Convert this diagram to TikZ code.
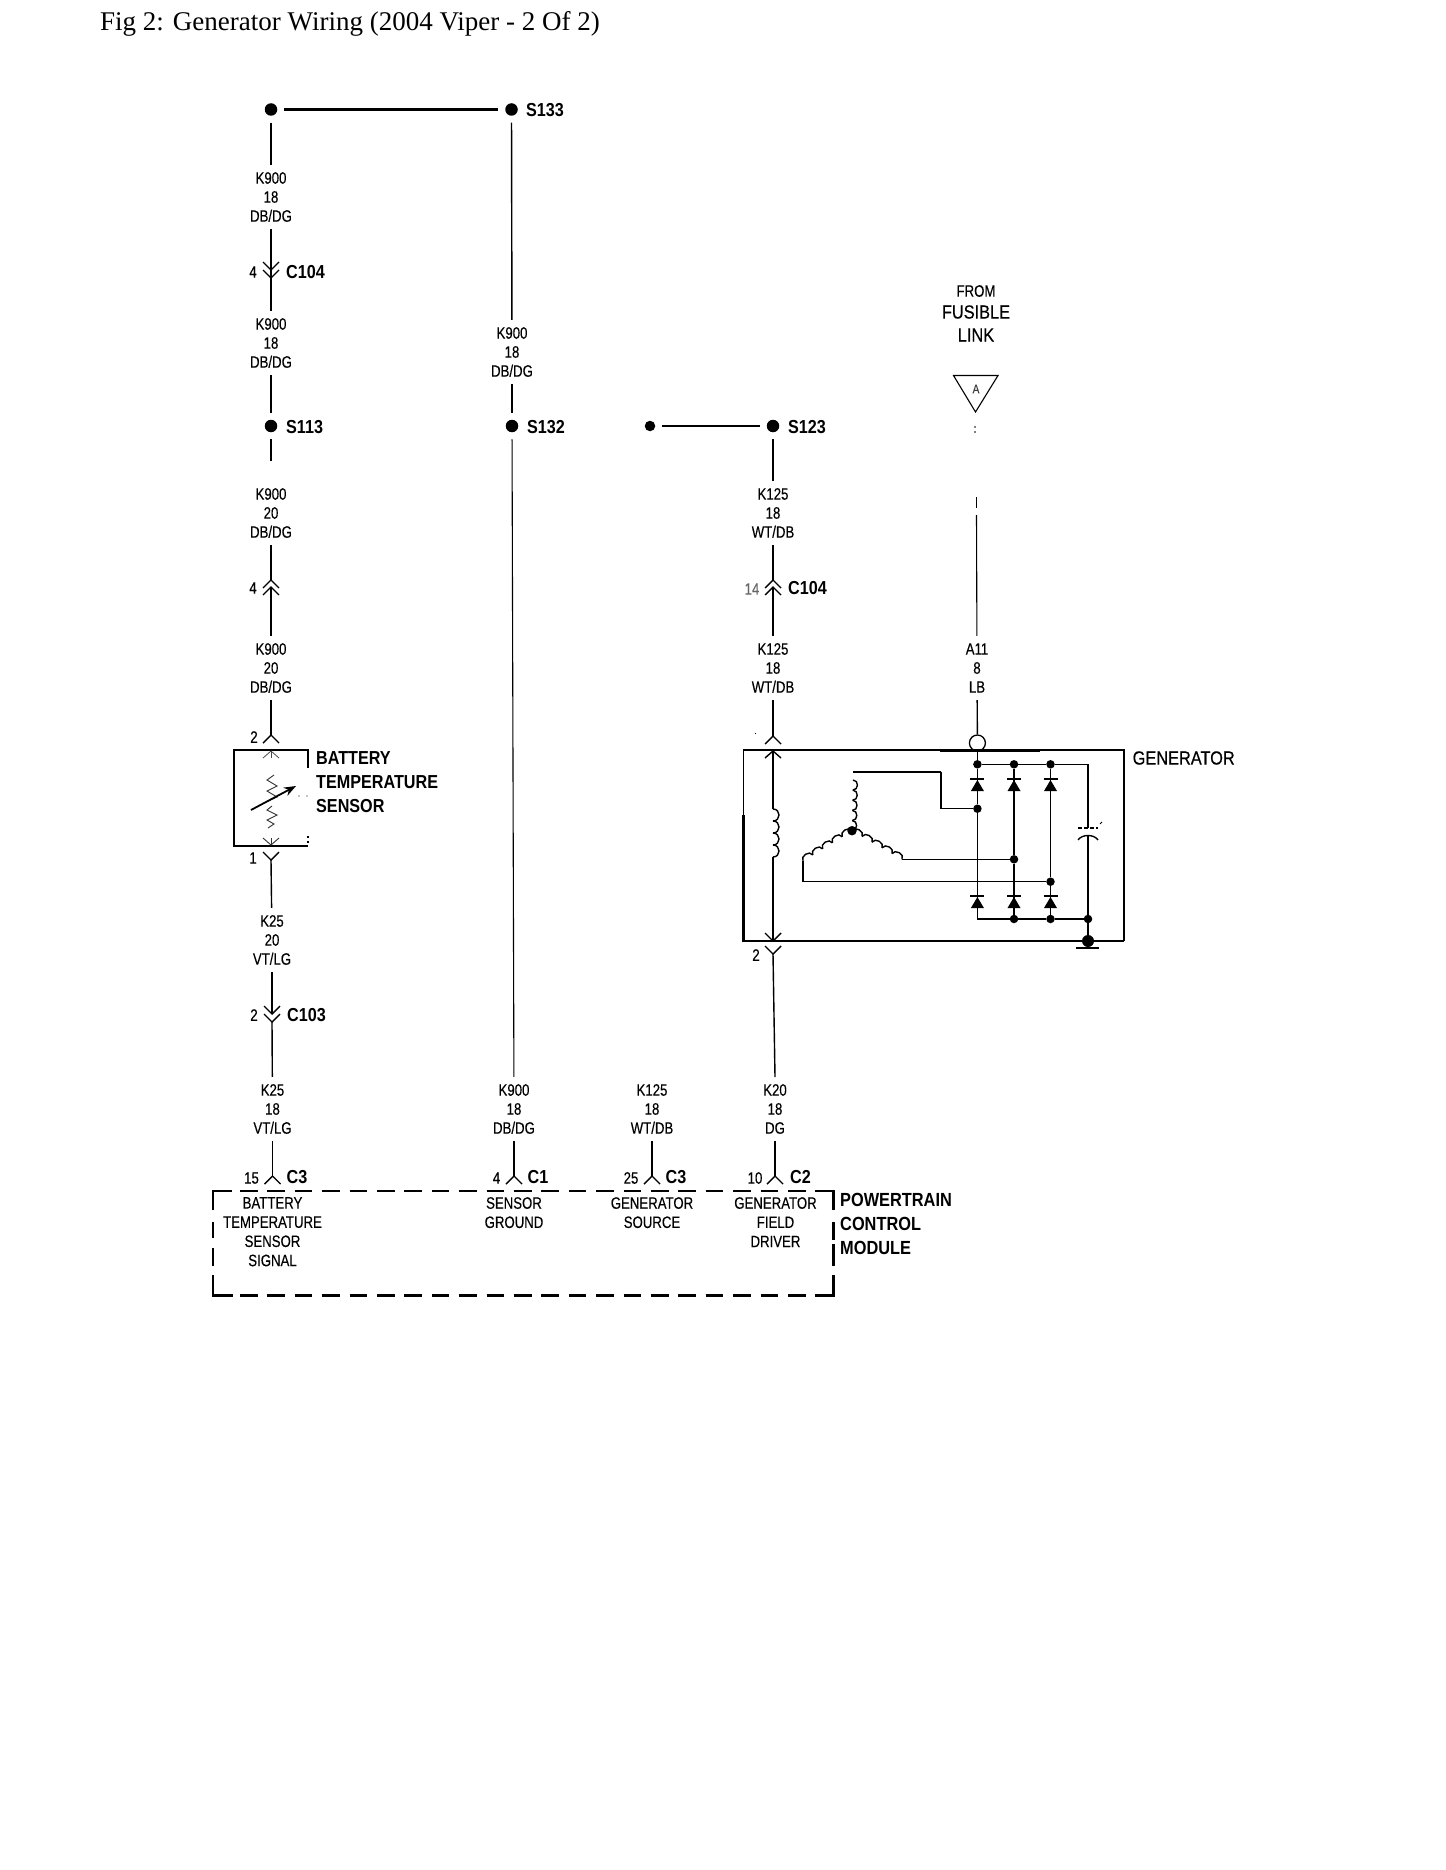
\documentclass[tikz,border=0pt]{standalone}
\usepackage{fontspec}
\setmainfont{Liberation Serif}
\newfontfamily\narrow[FakeStretch=0.86]{Liberation Sans}
\newfontfamily\narrowm[FakeStretch=0.80,FakeBold=0.25]{Liberation Sans}
\newfontfamily\narrowg[FakeStretch=0.86,FakeBold=0.4]{Liberation Sans}
\usetikzlibrary{calc,arrows.meta}
\newcommand{\coilrun}[4]{%
  \foreach \ci in {1,...,#3}{%
    \pgfmathsetmacro{\ca}{(\ci-1)/#3}\pgfmathsetmacro{\cb}{\ci/#3}%
    \draw[wire] ($(#1)!\ca!(#2)$) .. controls +(#4) and +(#4) .. ($(#1)!\cb!(#2)$);
  }}
\tikzset{
  wire/.style={line width=1.4pt,black},
  thinwire/.style={line width=1.1pt,black},
  fatwire/.style={line width=2.6pt,black},
  frame/.style={line width=2.4pt,black},
  pcmline/.style={line width=2.8pt,black},
  pcm/.style={line width=2.8pt,black,dash pattern=on 17.5pt off 9.9pt},
  sdot/.style={circle,fill=black,inner sep=0pt,minimum size=12.5pt,outer sep=7pt},
  jdot/.style={circle,fill=black,inner sep=0pt,minimum size=8.5pt},
  wl/.style={font=\narrowm\fontsize{16.5}{19}\selectfont,align=center,inner sep=0pt,minimum height=64pt},
  pin/.style={font=\narrowm\fontsize{16.5}{19}\selectfont,inner sep=0pt},
  big/.style={font=\narrow\bfseries\fontsize{18.8}{23.5}\selectfont,inner sep=0pt,anchor=west},
  pl/.style={font=\narrowm\fontsize{16.5}{19.2}\selectfont,align=center,inner sep=0pt,anchor=north},
  chd/.pic={\draw[wire] (-8,-8)--(0,0)--(8,-8);},
  chu/.pic={\draw[wire] (-8,8)--(0,0)--(8,8);},
  diode/.pic={\draw[line width=1.2pt] (-7,0)--(7,0);\fill (0,1)--(-6.5,12)--(6.5,12)--cycle;}
}
\begin{document}
\begin{tikzpicture}[x=1pt,y=-1pt]
\useasboundingbox (0,0) rectangle (1445,1870);
\fill[white] (0,0) rectangle (1445,1870);
\node[anchor=west,inner sep=0pt,font=\fontsize{27}{32}\selectfont] (title) at (100,24) {Fig 2: Generator Wiring (2004 Viper - 2 Of 2)};

% --- splices
\node[sdot] (s133a) at (271,109.5) {};
\node[sdot] (s133b) at (511.5,109.5) {};
\node[big] (ls133) at (526,110) {S133};
\node[sdot] (s113) at (271,426) {};
\node[big] (ls113) at (286,427) {S113};
\node[sdot] (s132) at (512,426) {};
\node[big] (ls132) at (527,427) {S132};
\node[sdot,minimum size=10.5pt] (s123a) at (650,426) {};
\node[sdot] (s123b) at (773,426) {};
\node[big] (ls123) at (788,427) {S123};
\draw[fatwire] (s133a) -- (s133b);
\draw[fatwire] (s123a) -- (s123b);

% --- left column
\node[wl] (w1) at (271,197) {K900\\18\\DB/DG};
\node[wl] (w2) at (271,343) {K900\\18\\DB/DG};
\node[wl] (w3) at (271,513) {K900\\20\\DB/DG};
\node[wl] (w4) at (271,668) {K900\\20\\DB/DG};
\node[wl] (w5) at (272,940) {K25\\20\\VT/LG};
\node[wl] (w6) at (272.5,1109) {K25\\18\\VT/LG};
\coordinate (c1a) at (271,270); \coordinate (c1b) at (271,278);
\pic at (c1a) {chd}; \pic at (c1b) {chd};
\node[pin] (p1) at (253,272) {4};
\node[big] (l1) at (286,272) {C104};
\draw[wire] (s133a) -- (w1);
\draw[wire] (w1) -- (c1b);
\draw[wire] (c1b) -- (w2);
\draw[wire] (w2) -- (s113);
\coordinate (e1) at (271,461);
\draw[wire] (s113) -- (e1);
\coordinate (c2a) at (271,580); \coordinate (c2b) at (271,587);
\pic at (c2a) {chu}; \pic at (c2b) {chu};
\node[pin] (p2) at (253,588) {4};
\draw[wire] (w3) -- (c2a);
\draw[wire] (c2b) -- (w4);
\coordinate (c3a) at (271,735);
\pic at (c3a) {chu};
\node[pin] (p3) at (254,737) {2};
\draw[wire] (w4) -- (c3a);

% --- sensor
\coordinate (c3b) at (271,750); \coordinate (c4a) at (271,846); \coordinate (c4b) at (271,860);
\draw[frame] (308,768) -- (308,750) -- (234,750) -- (234,846) -- (308,846);
\draw[line width=1.2pt,dash pattern=on 2pt off 3pt] (308,836) -- (308,845);
\draw[line width=.8pt,black!70] (263,758)--(271,751)--(279,758);
\draw[line width=.8pt,black!70] (271,751)--(271,758);
\draw[line width=.9pt,black!80] (263,838)--(271,845)--(279,838);
\draw[line width=.9pt,black!80] (271,838)--(271,845);
\draw[line width=.9pt,black!80] (274,775)--(267,780)--(277,786)--(267,791)--(277,797)--(268,801);
\draw[line width=.9pt,black!80] (272,806)--(267,810)--(277,815)--(267,820)--(274,824)--(268,828);
\draw[line width=1.8pt,-{Stealth[length=12pt,width=9pt]}] (251,810) -- (296,786);
\fill (299,796) circle (.6); \fill (307,796) circle (.6);
\node[big] (ls1) at (316,758) {BATTERY};
\node[big] (ls2) at (316,782) {TEMPERATURE};
\node[big] (ls3) at (316,806) {SENSOR};
\pic at (c4b) {chd};
\node[pin] (p4) at (253,858) {1};
\draw[wire] (c4b) -- (w5);
\coordinate (c5a) at (272,1014); \coordinate (c5b) at (272,1022);
\pic at (c5a) {chd}; \pic at (c5b) {chd};
\node[pin] (p5) at (254,1015) {2};
\node[big] (l5) at (287,1015) {C103};
\draw[wire] (w5) -- (c5a);
\draw[wire] (c5b) -- (w6);

% --- middle column
\node[wl] (m1) at (512,352) {K900\\18\\DB/DG};
\node[wl] (m2) at (514,1109) {K900\\18\\DB/DG};
\draw[wire] (s133b) -- (m1);
\draw[wire] (m1) -- (s132);
\draw[thinwire] (s132) -- (m2);

% --- right column
\node[wl] (r1) at (773,513) {K125\\18\\WT/DB};
\node[wl] (r2) at (773,668) {K125\\18\\WT/DB};
\coordinate (r3a) at (773,580); \coordinate (r3b) at (773,587);
\pic at (r3a) {chu}; \pic at (r3b) {chu};
\node[pin,text=black!60] (p6) at (752,589) {14};
\node[big] (l6) at (788,588) {C104};
\draw[wire] (s123b) -- (r1);
\draw[wire] (r1) -- (r3a);
\draw[wire] (r3b) -- (r2);
\coordinate (g1) at (773,736);
\pic at (g1) {chu};
\draw[wire] (r2) -- (g1);

% --- fusible link
\node[inner sep=0pt,align=center,font=\narrowm\fontsize{16.5}{19}\selectfont] (f1) at (976,291) {FROM};
\node[inner sep=0pt,align=center,font=\narrowg\fontsize{19}{23.5}\selectfont] (f2) at (976,312) {FUSIBLE};
\node[inner sep=0pt,align=center,font=\narrowg\fontsize{19}{23.5}\selectfont] (f3) at (976,335) {LINK};
\draw[line width=1.1pt] (953.5,375.5) -- (998,375.5) -- (975.5,412) -- cycle;
\node[inner sep=0pt,font=\narrowm\fontsize{13}{14}\selectfont,text=black!75] (fa) at (976,389) {A};
\fill (975,427) circle (.8); \fill (975,432) circle (.8);
\coordinate (ft1) at (976.5,497); \coordinate (ft2) at (976.5,508);
\coordinate (ft3) at (976.5,515);
\draw[thinwire] (ft1) -- (ft2);
\node[wl] (a1) at (977,668) {A11\\8\\LB};
\node[circle,draw,line width=1.3pt,inner sep=0pt,minimum size=16pt] (g2) at (977.4,743) {};
\draw[thinwire] (ft3) -- (a1);
\draw[wire] (a1) -- (g2);

% --- generator
\draw[line width=1.8pt] (743.5,815) -- (743.5,750) -- (1124,750) -- (1124,941);
\draw[line width=2.8pt] (743.5,815) -- (743.5,941) -- (1124,941);
\draw[line width=2.8pt] (940,750.5) -- (1040,750.5);
\node[font=\narrowg\fontsize{19}{23.5}\selectfont,inner sep=0pt,anchor=west] (lg) at (1132.5,758) {GENERATOR};
\draw[wire] (765,758)--(773,751)--(781,758);
\coordinate (f4) at (773,751); \coordinate (f5) at (773,809); \coordinate (f6) at (773,857); \coordinate (f7) at (773,941);
\draw[wire] (f4) -- (f5);
\coilrun{f5}{f6}{4}{8,0}
\draw[wire] (f6) -- (f7);
\draw[wire] (765,933)--(773,941)--(781,933);
\coordinate (g3) at (773,954);
\pic at (g3) {chd};
\node[pin] (p7) at (756,955) {2};
\draw[line width=.8pt] (755,733) -- (755,734);

% rectifier
\foreach \n/\x in {a/977.4,b/1014,c/1050.5}{
  \node[jdot] (t\n) at (\x,764.3) {};
  \coordinate (u\n) at (\x,779);
  \coordinate (v\n) at (\x,896);
  \pic at (u\n) {diode};
  \pic at (v\n) {diode};
}
\node[jdot] (ba) at (1014,919) {};
\node[jdot] (bb) at (1050.5,919) {};
\node[jdot] (bc) at (1088,919) {};
\coordinate (bd) at (977.4,919);
\coordinate (te) at (1088,764.3);
\draw[wire] (g2) -- (ta);
\draw[wire] (ta) -- (tb);
\draw[wire] (tb) -- (tc);
\draw[wire] (tc) -- (te);
\node[jdot] (ja) at (977.4,808.7) {};
\node[jdot] (jb) at (1014,859.3) {};
\node[jdot] (jc) at (1050.5,881.7) {};
\draw[wire] (ta) -- (ja);
\draw[wire] (ja) -- (bd);
\draw[wire] (tb) -- (jb);
\draw[wire] (jb) -- (ba);
\draw[wire] (tc) -- (jc);
\draw[wire] (jc) -- (bb);
\draw[wire] (bd) -- (ba);
\draw[wire] (ba) -- (bb);
\draw[wire] (bb) -- (bc);
% capacitor
\coordinate (ca) at (1088,828); \coordinate (cb) at (1088,836);
\draw[wire] (te) -- (ca);
\draw[wire] (cb) -- (bc);
\draw[line width=1.3pt,dash pattern=on 4pt off 2pt] (1078,828) -- (1098,828);
\draw[wire] (1078,840) .. controls (1082,834) and (1094,834) .. (1098,840);
\draw[line width=1pt] (1100,824) -- (1102,822);
% ground
\node[circle,fill=black,inner sep=0pt,minimum size=12pt] (gd) at (1088,941) {};
\draw[wire] (bc) -- (gd);
\draw[line width=2.8pt] (1076,948) -- (1099,948);
% stator
\node[jdot,minimum size=9.5pt] (st) at (852,830.7) {};
\coordinate (s1) at (853,780); \coordinate (s2) at (853,771.7);
\coordinate (s3) at (940.8,771.7); \coordinate (s4) at (940.8,808.7);
\coilrun{s1}{st}{5}{6,0}
\draw[wire,line width=1.8pt] (s2) -- (s3);
\draw[wire] (s3) -- (s4) -- (ja);
\coordinate (s5) at (803,861); \coordinate (s6) at (803,881.7);
\coilrun{st}{s5}{5}{-3,-5}
\draw[wire] (s5) -- (s6) -- (jc);
\coordinate (s7) at (902,859.3);
\coilrun{st}{s7}{5}{3,-5}
\draw[wire] (s7) -- (jb);

% --- lower wires
\coordinate (g4) at (775,1077);
\draw[wire] (g3) -- (g4);
\node[wl] (d1) at (775,1109) {K20\\18\\DG};
\node[wl] (d2) at (652,1109) {K125\\18\\WT/DB};
\coordinate (k1) at (272.5,1176); \coordinate (k2) at (514,1176);
\coordinate (k3) at (652,1176); \coordinate (k4) at (775,1176);
\foreach \k in {k1,k2,k3,k4}{\pic at (\k) {chu};}
\draw[wire] (w6) -- (k1);
\draw[wire] (m2) -- (k2);
\draw[wire] (d2) -- (k3);
\draw[wire] (d1) -- (k4);
\node[pin] (n1) at (251.5,1178) {15};
\node[big] (c1l) at (286.5,1177) {C3};
\node[pin] (n2) at (496.5,1178) {4};
\node[big] (c2l) at (527.5,1177) {C1};
\node[pin] (n3) at (631,1178) {25};
\node[big] (c3l) at (665.5,1177) {C3};
\node[pin] (n4) at (755,1178) {10};
\node[big] (c4l) at (790,1177) {C2};

% --- PCM
\draw[pcmline] (213,1210) -- (213,1191) -- (232,1191);
\draw[pcm] (240,1191) -- (806,1191);
\draw[pcmline] (815,1191) -- (833.5,1191) -- (833.5,1210);
\draw[pcmline] (213,1275) -- (213,1295.5) -- (233,1295.5);
\draw[pcm] (240,1295.5) -- (806,1295.5);
\draw[pcmline] (815,1295.5) -- (833.5,1295.5) -- (833.5,1275);
\draw[pcmline] (213,1222) -- (213,1238);
\draw[pcmline] (213,1248) -- (213,1266);
\draw[pcmline] (833.5,1222) -- (833.5,1240);
\draw[pcmline] (833.5,1244) -- (833.5,1266);
\node[pl] (t1) at (272.5,1197) {BATTERY\\TEMPERATURE\\SENSOR\\SIGNAL};
\node[pl] (t2) at (514,1197) {SENSOR\\GROUND};
\node[pl] (t3) at (652,1197) {GENERATOR\\SOURCE};
\node[pl] (t4) at (775.5,1197) {GENERATOR\\FIELD\\DRIVER};
\node[big,font=\narrow\bfseries\fontsize{19}{24}\selectfont] (pc1) at (840,1199.5) {POWERTRAIN};
\node[big,font=\narrow\bfseries\fontsize{19}{24}\selectfont] (pc2) at (840,1223.5) {CONTROL};
\node[big,font=\narrow\bfseries\fontsize{19}{24}\selectfont] (pc3) at (840,1247.5) {MODULE};
\end{tikzpicture}
\end{document}
